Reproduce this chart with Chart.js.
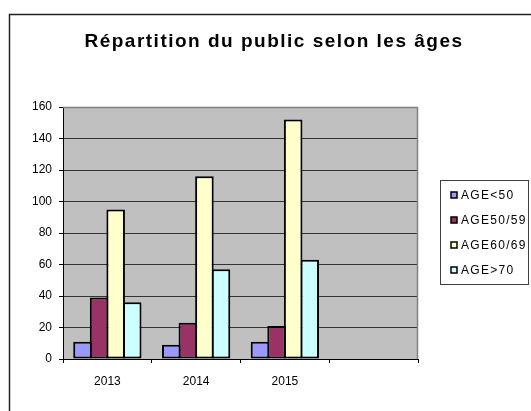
<!DOCTYPE html>
<html>
<head>
<meta charset="utf-8">
<script src="https://cdn.jsdelivr.net/npm/chart.js@4"></script>
<style>
  html, body { margin: 0; padding: 0; background: #fff; }
  canvas { display: block; }
</style>
</head>
<body>
<canvas id="c" width="531" height="411"></canvas>
<script>
const chartTitle = 'Répartition du public selon les âges';
const categories = ['2013', '2014', '2015', ''];
const seriesLabels = ['AGE<50', 'AGE50/59', 'AGE60/69', 'AGE>70'];
const ageUnder50 = [11, 9, 11, null];
const age50to59 = [39, 23, 21, null];
const age60to69 = [95, 116, 152, null];
const age70plus = [36, 57, 63, null];
const yMin = 0, yMax = 160, yStep = 20;
const seriesColors = ['#9999FF', '#993366', '#FFFFCC', '#CCFFFF'];

const FONT = "'Liberation Sans', Arial, sans-serif";

const decorPlugin = {
  id: 'decor',
  beforeDraw(chart) {
    const ctx = chart.ctx, a = chart.chartArea;
    ctx.save();
    ctx.fillStyle = '#fff';
    ctx.fillRect(0, 0, chart.width, chart.height);
    ctx.fillStyle = '#C0C0C0';
    ctx.fillRect(a.left, a.top, a.right - a.left, a.bottom - a.top);
    ctx.restore();
  },
  beforeDatasetsDraw(chart) {
    const ctx = chart.ctx, a = chart.chartArea;
    ctx.save();
    ctx.strokeStyle = '#808080';
    ctx.lineWidth = 1.5;
    ctx.beginPath();
    ctx.moveTo(a.left, a.top + 0.5);
    ctx.lineTo(a.right - 0.5, a.top + 0.5);
    ctx.lineTo(a.right - 0.5, a.bottom);
    ctx.stroke();
    ctx.restore();
  },
  afterDraw(chart) {
    const ctx = chart.ctx;
    ctx.save();
    // outer frame
    ctx.strokeStyle = '#222';
    ctx.lineWidth = 1.5;
    ctx.strokeRect(9.5, 14.5, 560, 440);
    // title
    ctx.fillStyle = '#000';
    ctx.font = 'bold 19px ' + FONT;
    ctx.letterSpacing = '1.5px';
    ctx.textBaseline = 'middle';
    ctx.textAlign = 'left';
    const w = ctx.measureText(chartTitle).width;
    ctx.fillText(chartTitle, 274 - w / 2, 42);
    // legend box
    ctx.letterSpacing = '0px';
    ctx.strokeStyle = '#404040';
    ctx.lineWidth = 1;
    ctx.fillStyle = '#fff';
    ctx.fillRect(440.5, 180.5, 88, 104);
    ctx.strokeRect(440.5, 180.5, 88, 104);
    ctx.font = '12px ' + FONT;
    ctx.letterSpacing = '1.3px';
    chart.data.datasets.forEach((ds, i) => {
      const y = 195 + i * 25;
      ctx.fillStyle = ds.backgroundColor;
      ctx.fillRect(451, y - 3, 6, 6);
      ctx.strokeStyle = '#000';
      ctx.lineWidth = 1.5;
      ctx.strokeRect(451, y - 3, 6, 6);
      ctx.fillStyle = '#000';
      ctx.textBaseline = 'middle';
      ctx.fillText(ds.label, 461, y + 0.5);
    });
    ctx.restore();
  }
};

const seriesData = [ageUnder50, age50to59, age60to69, age70plus];

new Chart(document.getElementById('c'), {
  type: 'bar',
  data: {
    labels: categories,
    datasets: seriesData.map((d, i) => ({
      label: seriesLabels[i],
      data: d,
      backgroundColor: seriesColors[i],
      borderColor: '#000',
      borderWidth: 2,
      borderSkipped: false,
      categoryPercentage: 0.747,
      barPercentage: 1.12
    }))
  },
  options: {
    responsive: false,
    animation: false,
    devicePixelRatio: 1,
    layout: { padding: { left: 0, right: 113, top: 107, bottom: 20 } },
    plugins: {
      legend: { display: false },
      title: { display: false },
      tooltip: { enabled: false }
    },
    scales: {
      x: {
        offset: true,
        grid: { offset: true, drawOnChartArea: false, tickLength: 4, tickColor: '#000', tickWidth: 1 },
        border: { color: '#000', width: 1 },
        ticks: { color: '#000', font: { family: FONT, size: 12 }, padding: 11, maxRotation: 0 },
        afterFit(scale) { scale.height = 32; }
      },
      y: {
        min: yMin, max: yMax,
        ticks: { stepSize: yStep, color: '#000', font: { family: FONT, size: 12 }, padding: 7 },
        grid: { color: '#333', tickColor: '#000', tickLength: 4, lineWidth: 1 },
        border: { color: '#000', width: 1 },
        afterFit(scale) { scale.width = 63; }
      }
    }
  },
  plugins: [decorPlugin]
});
</script>
</body>
</html>
